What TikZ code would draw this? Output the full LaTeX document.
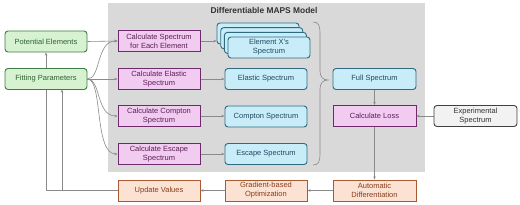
\documentclass[tikz,border=0pt]{standalone}
\usepackage{fontspec}
\setmainfont{Liberation Sans}
\usetikzlibrary{arrows.meta,calc}
\pgfdeclarelayer{bg}
\pgfdeclarelayer{lines}
\pgfsetlayers{bg,lines,main}
\definecolor{grayBG}{HTML}{D9D9D9}
\definecolor{gFill}{HTML}{D6F2D0}
\definecolor{gLine}{HTML}{3E7D43}
\definecolor{gText}{HTML}{2F6232}
\definecolor{pFill}{HTML}{F2CBF0}
\definecolor{pLine}{HTML}{6E2B6C}
\definecolor{pText}{HTML}{5A2158}
\definecolor{bFill}{HTML}{C8ECF8}
\definecolor{bLine}{HTML}{2F6B80}
\definecolor{bText}{HTML}{1F4C62}
\definecolor{oFill}{HTML}{FBE2D3}
\definecolor{oLine}{HTML}{A85A30}
\definecolor{oText}{HTML}{8A3E1C}
\definecolor{eFill}{HTML}{F2F2F2}
\definecolor{eLine}{HTML}{404040}
\definecolor{conn}{HTML}{8A8A8A}
\tikzset{
  box/.style={draw, line width=0.9pt, minimum width=82pt, minimum height=21pt,
    align=center, inner sep=1pt, font=\fontsize{7.5}{9}\selectfont},
  gbox/.style={box, fill=gFill, draw=gLine, text=gText, rounded corners=3pt},
  pbox/.style={box, fill=pFill, draw=pLine, text=pText},
  bbox/.style={box, fill=bFill, draw=bLine, text=bText, rounded corners=3pt},
  obox/.style={box, fill=oFill, draw=oLine, text=oText},
  ebox/.style={box, fill=eFill, draw=eLine, text=black!80, rounded corners=3pt},
  conn/.style={draw=conn, line width=0.6pt},
  arr/.style={conn, -{Stealth[length=3.2pt,width=2.6pt]}},
}
\begin{document}
\begin{tikzpicture}[x=1pt,y=-1pt]
\useasboundingbox (0,0) rectangle (520,205);
\begin{pgfonlayer}{bg}
\fill[grayBG] (108,3) rectangle (425,172);
\end{pgfonlayer}
\node[font=\fontsize{8.4}{10}\selectfont\bfseries, text=black!80] (title) at (264,11) {Differentiable MAPS Model};

\node[gbox] (pot) at (46,41.5) {Potential Elements};
\node[gbox] (fit) at (46,79) {Fitting Parameters};

\node[pbox] (cse) at (159,41) {Calculate Spectrum\\for Each Element};
\node[pbox] (cel) at (159,79) {Calculate Elastic\\Spectrum};
\node[pbox] (ccm) at (159,116) {Calculate Compton\\Spectrum};
\node[pbox] (ces) at (159,154) {Calculate Escape\\Spectrum};

\node[bbox] (exs3) at (258,33.5) {};
\node[bbox] (exs2) at (261.7,38.2) {};
\node[bbox] (exs1) at (265.4,42.9) {};
\node[bbox] (exs) at (269,47.5) {Element X's\\Spectrum};
\node[bbox] (els) at (266,79) {Elastic Spectrum};
\node[bbox] (cms) at (266,116.5) {Compton Spectrum};
\node[bbox] (esp) at (266,154) {Escape Spectrum};

\node[bbox, minimum width=83pt] (full) at (374.5,79) {Full Spectrum};
\node[pbox, minimum width=83pt] (loss) at (374.5,116) {Calculate Loss};
\node[ebox, minimum width=83pt] (exp) at (475.5,116) {Experimental\\Spectrum};

\node[obox, minimum width=83pt] (auto) at (374.5,190.5) {Automatic\\Differentiation};
\node[obox] (grad) at (266,190.5) {Gradient-based\\Optimization};
\node[obox] (upd) at (159,190.5) {Update Values};

\coordinate (brT) at (313,22);
\coordinate (brB) at (313,165);
\coordinate (brTip) at (328,80);

\begin{pgfonlayer}{lines}
\draw[arr] (pot.east) -- (cse.west);
\draw[arr] (fit.east) -- (cel.west);
\draw[arr] (fit.east) .. controls (101,79) and (96,41) .. (cse.west);
\draw[arr] (fit.east) .. controls (101,79) and (96,116) .. (ccm.west);
\draw[arr] (fit.east) .. controls (103,79) and (94,154) .. (ces.west);

\draw[arr] (cse.east) -- (cse.east -| exs3.west);
\draw[arr] (cel.east) -- (els.west);
\draw[arr] (ccm.east) -- (ccm.east -| cms.west);
\draw[arr] (ces.east) -- (esp.west);

\draw[conn] (brT) .. controls (318,22) and (320,25) .. (320,32)
  -- (320,71) .. controls (320,77) and (323,80) .. (brTip)
  .. controls (323,80) and (320,83) .. (320,89)
  -- (320,155) .. controls (320,162) and (318,165) .. (brB);

\draw[arr] (full.south) -- (loss.north);
\draw[arr] (exp.west) -- (loss.east);
\draw[arr] (loss.south) -- (auto.north);
\draw[arr] (auto.west) -- (grad.east);
\draw[arr] (grad.west) -- (upd.west -| upd.east);
\draw[arr] (upd.west) -- (upd.west -| pot.south) -- (pot.south);
\draw[arr] (upd.west -| 62,0) -- (62,89.5);
\end{pgfonlayer}
\end{tikzpicture}
\end{document}
